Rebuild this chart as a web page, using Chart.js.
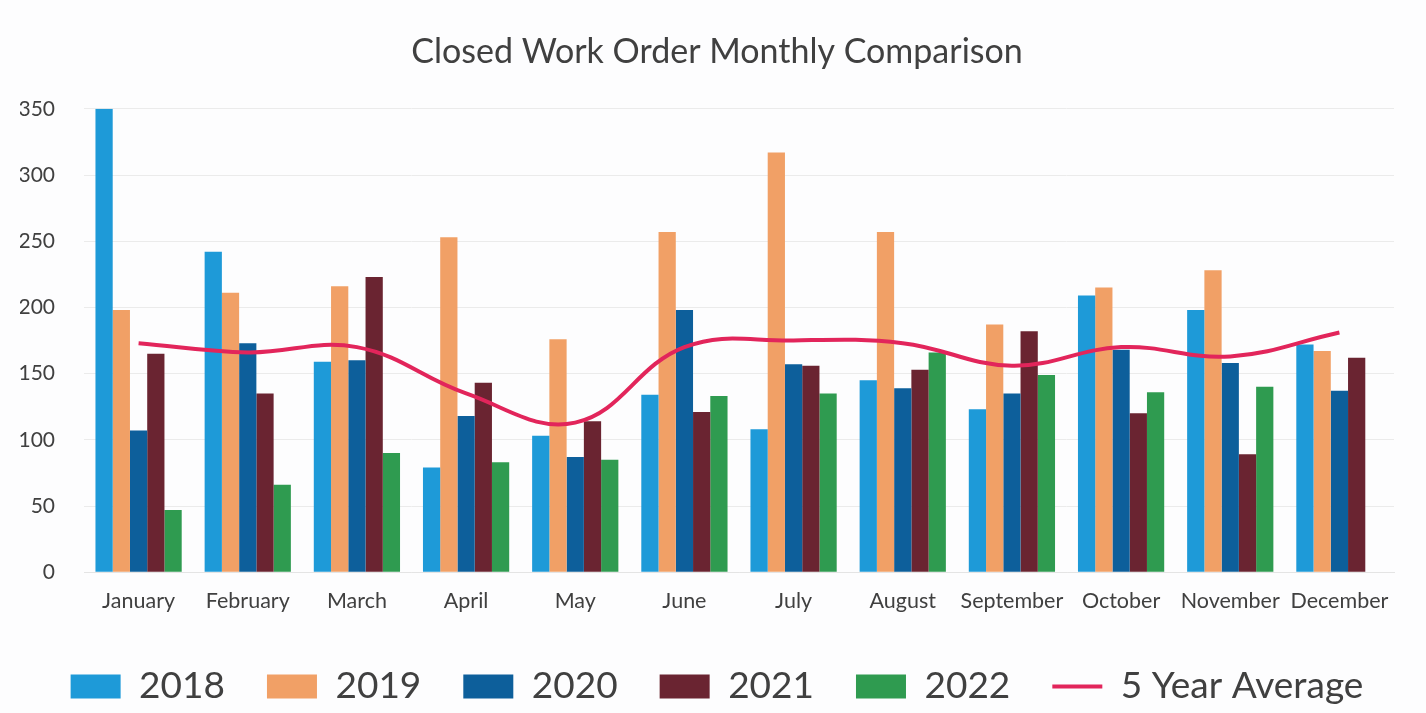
<!DOCTYPE html>
<html lang="en">
<head>
    <meta charset="UTF-8">
    <title>Closed Work Order Monthly Comparison</title>
    <script src="https://cdn.jsdelivr.net/npm/chart.js"></script>
    <style>
        html, body { margin: 0; padding: 0; background: #fdfdfe; }
        #wrap { width: 1426px; height: 713px; }
    </style>
</head>
<body>
    <div id="wrap"><canvas id="woChart"></canvas></div>

    <script>
        const months = ['January', 'February', 'March', 'April', 'May', 'June',
                        'July', 'August', 'September', 'October', 'November', 'December'];
        const y2018 = [350, 242, 159, 79, 103, 134, 108, 145, 123, 209, 198, 172];
        const y2019 = [198, 211, 216, 253, 176, 257, 317, 257, 187, 215, 228, 167];
        const y2020 = [107, 173, 160, 118, 87, 198, 157, 139, 135, 168, 158, 137];
        const y2021 = [165, 135, 223, 143, 114, 121, 156, 153, 182, 120, 89, 162];
        const y2022 = [47, 66, 90, 83, 85, 133, 135, 166, 149, 136, 140, null];
        const fiveYearAvg = [173, 166, 170, 135, 113, 170, 175, 173, 156, 170, 163, 181];
        const yTicks = [0, 50, 100, 150, 200, 250, 300, 350];

        const textColor = '#404040';
        const font = 'Lato, "Open Sans", sans-serif';

        function barSet(label, data, color) {
            return {
                type: 'bar',
                label: label,
                data: data,
                backgroundColor: color,
                borderWidth: 0,
                pointStyle: 'rect',
                order: 1
            };
        }

        new Chart(document.getElementById('woChart'), {
            data: {
                labels: months,
                datasets: [
                    barSet('2018', y2018, '#1e9ad8'),
                    barSet('2019', y2019, '#f1a066'),
                    barSet('2020', y2020, '#0d5f9b'),
                    barSet('2021', y2021, '#6a2431'),
                    barSet('2022', y2022, '#2f9b50'),
                    {
                        type: 'line',
                        label: '5 Year Average',
                        data: fiveYearAvg,
                        borderColor: '#e2255b',
                        backgroundColor: '#e2255b',
                        borderWidth: 4,
                        tension: 0.4,
                        pointRadius: 0,
                        pointStyle: 'line',
                        fill: false,
                        order: 0
                    }
                ]
            },
            options: {
                responsive: true,
                maintainAspectRatio: false,
                animation: false,
                datasets: {
                    bar: { categoryPercentage: 0.79, barPercentage: 1.0 }
                },
                layout: { padding: { left: 20, right: 12, top: 16, bottom: -2 } },
                plugins: {
                    title: {
                        display: true,
                        text: 'Closed Work Order Monthly Comparison',
                        color: textColor,
                        font: { family: font, size: 34, weight: 'normal' },
                        padding: { top: 16, bottom: 36 }
                    },
                    legend: {
                        position: 'bottom',
                        labels: {
                            usePointStyle: true,
                            pointStyleWidth: 50,
                            boxHeight: 24,
                            padding: 42,
                            color: textColor,
                            font: { family: font, size: 37 },
                            sort: (a, b) => a.datasetIndex - b.datasetIndex
                        }
                    },
                    tooltip: { enabled: false }
                },
                scales: {
                    x: {
                        grid: { display: false },
                        border: { color: '#e4e4e4' },
                        ticks: {
                            color: textColor,
                            font: { family: font, size: 21.5 },
                            padding: 8,
                            maxRotation: 0
                        },
                        afterFit: axis => { axis.height += 4; }
                    },
                    y: {
                        min: 0,
                        max: 350,
                        afterBuildTicks: axis => { axis.ticks = yTicks.map(v => ({ value: v })); },
                        grid: { color: '#ebebeb', drawTicks: false },
                        border: { display: false },
                        ticks: {
                            color: textColor,
                            font: { family: font, size: 21 },
                            padding: 29
                        },
                        afterFit: axis => { axis.width = 64; }
                    },
                    // empty right-hand spacer so the plot ends where the original does
                    spacer: {
                        type: 'linear',
                        position: 'right',
                        display: true,
                        grid: { display: false },
                        border: { display: false },
                        ticks: { display: false },
                        afterFit: axis => { axis.width = 20; }
                    }
                }
            }
        });
    </script>
</body>
</html>
